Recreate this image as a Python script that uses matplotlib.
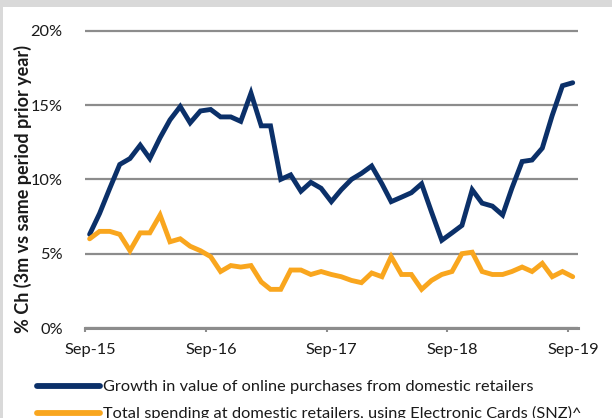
import matplotlib
matplotlib.use("Agg")
import matplotlib.pyplot as plt
import matplotlib.dates as mdates
import matplotlib.transforms as mtransforms
from matplotlib.patches import Rectangle
import pandas as pd

plt.rcParams['font.family'] = ['Lato', 'DejaVu Sans']

# monthly observations, Sep-2015 .. Sep-2019 (plotted mid-month)
months = pd.date_range('2015-09-01', '2019-09-01', freq='MS')
online_growth = [6.3, 7.7, 9.4, 11.0, 11.4, 12.3, 11.4, 12.8, 14.0, 14.9,
                 13.8, 14.6, 14.7, 14.2, 14.2, 13.9, 15.8, 13.6, 13.6, 10.0,
                 10.3, 9.2, 9.8, 9.4, 8.5, 9.3, 10.0, 10.4, 10.9, 9.7,
                 8.5, 8.8, 9.1, 9.7, 7.8, 5.9, 6.4, 6.9, 9.3, 8.4,
                 8.2, 7.6, 9.4, 11.2, 11.3, 12.1, 14.3, 16.3, 16.5]
card_spending = [6.0, 6.5, 6.5, 6.3, 5.2, 6.4, 6.4, 7.6, 5.8, 6.0,
                 5.5, 5.2, 4.8, 3.8, 4.2, 4.1, 4.2, 3.1, 2.6, 2.6,
                 3.9, 3.9, 3.6, 3.8, 3.6, 3.45, 3.2, 3.05, 3.7, 3.45,
                 4.8, 3.6, 3.6, 2.6, 3.2, 3.6, 3.8, 5.0, 5.1, 3.8,
                 3.6, 3.6, 3.8, 4.1, 3.8, 4.35, 3.45, 3.8, 3.45]
series_labels = ["Growth in value of online purchases from domestic retailers",
                 "Total spending at domestic retailers, using Electronic Cards (SNZ)^"]
y_ticks = [0, 5, 10, 15, 20]
y_tick_labels = ['0%', '5%', '10%', '15%', '20%']
x_tick_dates = pd.to_datetime(['2015-09-01', '2016-09-01', '2017-09-01',
                               '2018-09-01', '2019-09-01'])
x_tick_labels = ['Sep-15', 'Sep-16', 'Sep-17', 'Sep-18', 'Sep-19']
y_label = "% Ch (3m vs same period prior year)"

W, H = 612, 418
fig = plt.figure(figsize=(W / 100, H / 100), dpi=100, facecolor='#d9d9d9')
fig.patches.append(Rectangle((3 / W, 0), 1, 1 - 7 / H, transform=fig.transFigure,
                             facecolor='white', edgecolor='none', zorder=-5))

# axes geometry (pixels): x 85..578, y 0% at 328, 20% at 30.7
ymax = 20.5
px_per_unit = (328 - 30.7) / 20.0
top_px = 328 - ymax * px_per_unit
ax = fig.add_axes([85 / W, 1 - 328 / H, (578 - 85) / W, (328 - top_px) / H])
ax.set_facecolor('none')

x = months + pd.Timedelta(days=14)
blue = '#0B3069'
orange = '#F9A61E'
ax.plot(x, online_growth, color=blue, lw=3.5, solid_capstyle='round',
        solid_joinstyle='miter', label=series_labels[0], zorder=3)
ax.plot(x, card_spending, color=orange, lw=3.5, solid_capstyle='round',
        solid_joinstyle='miter', label=series_labels[1], zorder=3)

ax.set_xlim(pd.Timestamp('2015-09-01'), pd.Timestamp('2019-10-01'))
ax.set_ylim(0, ymax)

for s in ['top', 'right', 'left']:
    ax.spines[s].set_visible(False)
ax.spines['bottom'].set_color('#8c8c8c')
ax.spines['bottom'].set_linewidth(2.2)

fs = 11.8
ax.set_yticks(y_ticks)
ax.set_yticklabels(y_tick_labels)
ax.tick_params(axis='y', length=0, pad=16, labelsize=fs, labelcolor='#1a1a1a')
ax.yaxis.grid(True, color='#8c8c8c', lw=1.6)
ax.set_axisbelow(True)

ax.set_xticks(x_tick_dates)
ax.set_xticklabels(x_tick_labels)
ax.tick_params(axis='x', length=3, width=1.5, color='#8c8c8c', pad=8,
               labelsize=fs, labelcolor='#1a1a1a')
offset = mtransforms.ScaledTranslation(5 / 100, 0, fig.dpi_scale_trans)
for lab in ax.get_xticklabels():
    lab.set_transform(lab.get_transform() + offset)

fig.text(23 / W, 1 - 189 / H, y_label, rotation=90, ha='center', va='center',
         fontsize=13, fontweight='bold', color='#1a1a1a')

leg = fig.legend(loc='upper left', bbox_to_anchor=(37 / W, 1 - 380 / H),
                 frameon=False, borderpad=0, borderaxespad=0,
                 handlelength=3.85, handletextpad=0.2, labelspacing=0.72,
                 fontsize=fs)
for line in leg.get_lines():
    line.set_linewidth(4.2)
    line.set_solid_capstyle('round')
for t in leg.get_texts():
    t.set_color('#1a1a1a')

fig.savefig('out.png', dpi=100, facecolor=fig.get_facecolor())
